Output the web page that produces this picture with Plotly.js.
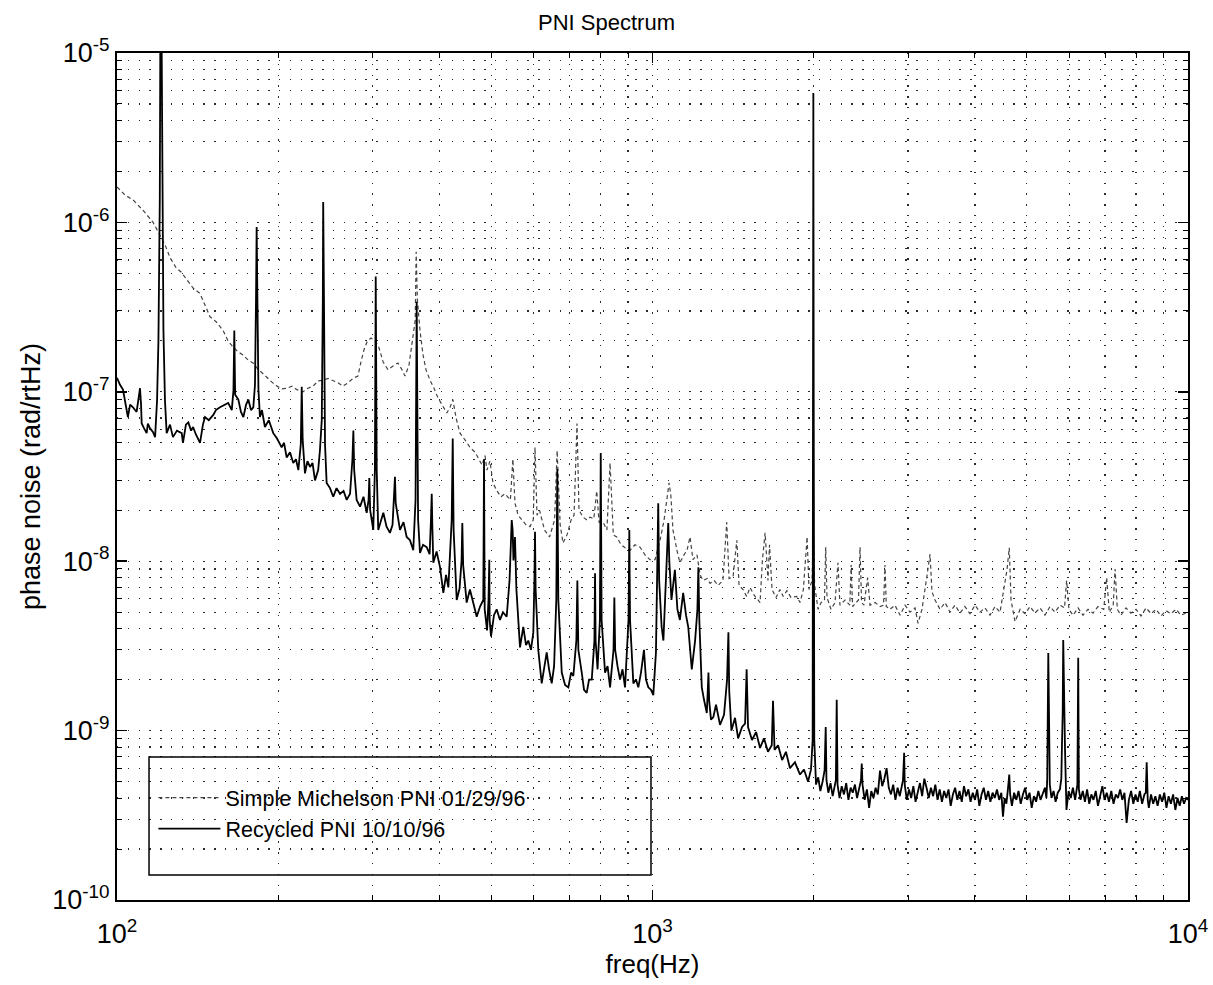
<!DOCTYPE html>
<html>
<head>
<meta charset="utf-8">
<script src="https://cdn.plot.ly/plotly-3.0.1.min.js"></script>
<style>html,body{margin:0;padding:0;background:#fff}#chart{width:1213px;height:985px}</style>
</head>
<body>
<div id="chart"></div>
<script>
// ---- Simple Michelson PNI 01/29/96 (dashed grey) ----
const freqSimple = [
  100, 101.3, 103.5, 107.1, 111.8, 116.8, 122.9, 125.6, 128.9, 131.7, 134.9, 138.7, 142.9, 146.0, 149.2, 153.0,
  157.8, 161.2, 164.7, 168.3, 172.0, 175.7, 179.5, 182.6, 186.5, 190.6, 194.7, 199.0, 203.3, 207.7, 212.2, 216.8,
  222.5, 227.3, 232.3, 237.5, 242.5, 247.8, 253.1, 258.7, 264.2, 270.0, 275.9, 281.8, 285.5, 289.2, 293.0, 298.1,
  303.3, 308.5, 314.0, 320.7, 327.7, 334.7, 340.6, 345.0, 351.0, 355.5,
  360.5, 362.0, 363.8,
  368.0, 372.8, 377.6, 384.2, 390.8, 397.6, 404.5, 412.9, 418.7, 423.8, 429.8, 437.0, 446.6, 456.1, 466.2, 474.3,
  480.5, 486.7, 490.8, 497.0, 503.6, 512.3, 521.2, 530.3,
  542.8, 548.6, 553.6,
  561.0, 570.6, 580.5, 590.5,
  598.8, 603.4, 608.6,
  615.2, 628.5, 642.3,
  656.4, 663.6, 672.4,
  680.6, 692.4, 704.6,
  713.7, 722.8, 729.0,
  741.7, 754.6, 764.4,
  777, 786.8, 794.6,
  808.5,
  822, 833.2, 845,
  857.5, 873.5, 888.6, 907.7, 927.5, 947.7, 968.3, 989.3, 1011, 1033, 1051,
  1064, 1074, 1082, 1092,
  1111, 1125, 1145,
  1160, 1175, 1190,
  1211, 1227, 1243, 1265, 1281, 1303, 1326,
  1354, 1376, 1390,
  1414, 1437, 1451,
  1476, 1499, 1521, 1548, 1574, 1588,
  1604, 1623, 1643, 1654, 1672,
  1701, 1730, 1753, 1783, 1814, 1859, 1886, 1913,
  1930, 1944, 1960,
  1986, 1997, 2008,
  2038, 2064,
  2095, 2106, 2118,
  2154, 2192, 2220, 2239, 2289, 2336, 2349, 2364, 2399, 2425, 2441, 2457,
  2483, 2522, 2548, 2604, 2661, 2700, 2718, 2733,
  2777, 2836, 2900, 2962, 3026, 3092, 3132, 3186,
  3255, 3298, 3326,
  3370, 3443, 3518, 3594, 3672, 3752, 3832, 3916, 4001, 4088, 4176, 4268, 4361, 4456,
  4592, 4637, 4672,
  4753, 4858, 4962, 5070, 5180, 5292, 5407, 5525, 5645, 5768,
  5880, 5934, 5994,
  6099, 6233, 6367, 6506, 6647, 6790,
  6960, 7049, 7130,
  7250, 7308, 7380,
  7496, 7660, 7826, 7997, 8172, 8350, 8531, 8716, 8904, 9097, 9296, 9497, 9703, 10000
];
const pniSimple = [
  1.62e-6, 1.55e-6, 1.45e-6, 1.36e-6, 1.18e-6, 1.0e-6, 7.4e-7, 6.2e-7, 5.4e-7, 5.1e-7, 4.6e-7, 4.1e-7, 3.8e-7, 3.25e-7, 2.77e-7, 2.6e-7,
  2.3e-7, 2.0e-7, 1.84e-7, 1.72e-7, 1.65e-7, 1.54e-7, 1.48e-7, 1.38e-7, 1.29e-7, 1.22e-7, 1.14e-7, 1.08e-7, 1.04e-7, 1.05e-7, 1.08e-7, 1.03e-7,
  1.0e-7, 1.05e-7, 1.08e-7, 1.16e-7, 1.17e-7, 1.2e-7, 1.16e-7, 1.13e-7, 1.08e-7, 1.13e-7, 1.2e-7, 1.24e-7, 1.5e-7, 1.77e-7, 1.97e-7, 2.08e-7,
  2.0e-7, 1.82e-7, 1.5e-7, 1.35e-7, 1.42e-7, 1.48e-7, 1.35e-7, 1.24e-7, 1.44e-7, 1.89e-7,
  2.65e-7, 6.7e-7, 3.5e-7,
  2.3e-7, 1.65e-7, 1.35e-7, 1.17e-7, 1.05e-7, 9.2e-8, 8.4e-8, 7.5e-8, 8.1e-8, 9.0e-8, 7.0e-8, 5.7e-8, 5.2e-8, 4.7e-8, 4.4e-8, 4.0e-8,
  3.7e-8, 4.2e-8, 3.45e-8, 3.9e-8, 2.9e-8, 2.6e-8, 2.4e-8, 2.5e-8,
  2.3e-8, 4.0e-8, 2.2e-8,
  1.87e-8, 1.75e-8, 1.64e-8, 1.6e-8,
  1.75e-8, 4.7e-8, 1.87e-8,
  2.0e-8, 1.53e-8, 1.39e-8,
  1.75e-8, 4.5e-8, 1.64e-8,
  1.28e-8, 1.43e-8, 1.75e-8,
  1.87e-8, 6.5e-8, 2.0e-8,
  1.82e-8, 1.75e-8, 1.82e-8,
  1.78e-8, 2.6e-8, 1.7e-8,
  1.7e-8,
  1.53e-8, 3.8e-8, 1.43e-8,
  1.39e-8, 1.25e-8, 1.2e-8, 1.16e-8, 1.25e-8, 1.21e-8, 1.09e-8, 1.02e-8, 1.02e-8, 1.33e-8, 1.75e-8,
  2.3e-8, 2.9e-8, 2.45e-8, 1.53e-8,
  1.16e-8, 9.8e-9, 1.09e-8,
  1.16e-8, 1.39e-8, 1.02e-8,
  1.09e-8, 8.3e-9, 7.7e-9, 7.9e-9, 7.4e-9, 7.7e-9, 7.2e-9,
  7.7e-9, 1.7e-8, 7.9e-9,
  8.1e-9, 1.33e-8, 7.2e-9,
  6.8e-9, 6.2e-9, 7.0e-9, 6.3e-9, 5.9e-9, 5.7e-9,
  1.01e-8, 1.47e-8, 7.7e-9, 1.25e-8, 6.8e-9,
  6.1e-9, 6.8e-9, 6.2e-9, 6.7e-9, 6.1e-9, 6.2e-9, 5.7e-9, 6.8e-9,
  1.01e-8, 1.39e-8, 6.8e-9,
  7.7e-9, 1.53e-8, 7.2e-9,
  5.2e-9, 5.7e-9,
  5.9e-9, 1.21e-8, 6.1e-9,
  5.2e-9, 5.7e-9, 9.8e-9, 5.5e-9, 5.9e-9, 5.5e-9, 9.5e-9, 5.4e-9, 5.7e-9, 5.9e-9, 1.21e-8, 5.7e-9,
  5.5e-9, 8.0e-9, 5.5e-9, 5.7e-9, 5.4e-9, 5.5e-9, 9.5e-9, 5.4e-9,
  5.2e-9, 5.5e-9, 4.8e-9, 5.5e-9, 5.0e-9, 5.3e-9, 4.3e-9, 5.2e-9,
  8.2e-9, 1.1e-8, 6.6e-9,
  5.9e-9, 5.2e-9, 5.7e-9, 5.0e-9, 5.5e-9, 4.94e-9, 5.4e-9, 4.9e-9, 5.5e-9, 5.0e-9, 5.3e-9, 4.8e-9, 5.4e-9, 5.0e-9,
  8.9e-9, 1.2e-8, 5.9e-9,
  4.4e-9, 5.2e-9, 4.9e-9, 5.4e-9, 4.94e-9, 5.3e-9, 4.8e-9, 5.4e-9, 5.0e-9, 5.5e-9,
  5.3e-9, 7.7e-9, 5.2e-9,
  4.8e-9, 5.3e-9, 4.8e-9, 5.2e-9, 4.94e-9, 5.4e-9,
  5.2e-9, 8.0e-9, 5.0e-9,
  5.5e-9, 9.0e-9, 5.2e-9,
  4.8e-9, 5.3e-9, 4.94e-9, 5.2e-9, 4.75e-9, 5.3e-9, 4.9e-9, 5.2e-9, 4.75e-9, 5.1e-9, 4.9e-9, 5.2e-9, 4.8e-9, 5.0e-9
];

// ---- Recycled PNI 10/10/96 (solid black), 100 Hz - 2 kHz ----
const freqRecycled = [
  100, 100.4, 101.3, 102.6, 103.5, 104.8, 105.8, 107.1, 108.8, 109.9, 110.4, 110.9, 111.2, 112.3, 113.6, 114.2, 115.2, 116.7, 117.8,
  118.8, 119.5, 120.2, 120.5, 121.1, 121.6, 122.1, 122.9, 123.8,
  125.6, 127.2, 129.4, 132.1, 132.8, 134.5, 135.9, 137.5, 138.7, 140.4, 142.9, 144.7, 146.0, 148.4, 151.3, 153.0, 155.7, 158.5, 161.3, 163.8,
  165.0, 165.6, 166.2,
  168.5, 170.4, 172.2, 174.2, 175.9, 177.9, 179.7,
  181.0, 181.8, 182.3, 182.9, 183.7,
  184.9, 186.5, 188.9, 192.1, 195.8, 199.0, 203.0, 205.1, 207.4, 210.4, 213.4, 215.9, 218.1,
  220.4, 221.3, 222.2,
  224.4, 226.8, 229.3, 231.8, 234.3, 237.5, 239.3,
  241.2, 242.3, 242.7, 243.5, 244.6,
  246.3, 249.9, 253.4, 257.0, 260.9, 264.9, 268.5, 272.4,
  275.2, 276.3, 277.3,
  280.2, 284.4, 288.6, 292.6,
  295.0, 295.9, 297.0,
  301.0,
  303.1, 304.2, 305.5,
  307.5, 311.2, 314.3, 318.7, 323.4, 327.0,
  329.3, 330.4, 331.5,
  334.7, 337.6, 342.8, 347.5, 352.5, 357.5,
  361.0, 362.0, 362.8, 363.7, 365.0,
  368.0, 372.8, 378.7, 383.5,
  385.7, 387.0, 388.2,
  389.6, 395.2, 401.1, 406.8, 411.6, 415.7,
  421.7, 423.6, 425.2,
  430.9, 436.2,
  440.0, 441.4, 443.0,
  449.8, 456.1, 463.1, 469.6, 476.4, 483.1,
  484.6, 486.0,
  491.0,
  494.0, 495.7, 496.5,
  499.4, 505.8, 511.7, 519.0, 525.8, 534.2,
  540.8, 544.3, 545.9, 548.0, 550.0, 553.6, 557.0,
  565.7, 573.7, 580.5, 586.3, 593.0, 599.0,
  601.8, 603.4, 605.0,
  611.9, 621.0, 627.3, 634.5, 641.0, 648.3, 655.0,
  661.2, 664.1, 667.0,
  676.9, 686.7, 696.4, 704.6, 711.5,
  720.8, 723.9, 727.0,
  737.7, 745.0, 753.7, 761.2, 770.1,
  779.0, 781.1, 783.0,
  789.6,
  797.5, 800.5, 803.5,
  815.4, 824.3, 833.2,
  845.7, 848.7, 851.7,
  860.3, 869.7, 879.0, 888.6,
  902.0, 905.1, 908.0,
  920.9, 931.4, 940.9, 951.7, 964.0, 972.3, 982.2, 993.6, 1003.5, 1015,
  1021, 1025, 1029,
  1040, 1048, 1055,
  1066, 1070, 1075,
  1085, 1101, 1113, 1125, 1141, 1155, 1166, 1184, 1201,
  1213, 1218, 1223,
  1236, 1248, 1263,
  1268, 1272, 1276,
  1286, 1299, 1314, 1337, 1360,
  1378, 1386, 1391,
  1404, 1426, 1445, 1470,
  1489, 1499, 1508,
  1534, 1561, 1588, 1615, 1643,
  1670, 1679, 1690,
  1716, 1746, 1775, 1806, 1845, 1886, 1918, 1952, 1977,
  1991, 1994, 1997, 2000, 2005
];
const pniRecycled = [
  1.21e-7, 1.17e-7, 1.10e-7, 1.03e-7, 8.7e-8, 7.1e-8, 8.4e-8, 8.1e-8, 7.6e-8, 9.6e-8, 1.05e-7, 8.4e-8, 6.5e-8, 6.1e-8, 5.7e-8, 6.5e-8, 6.1e-8, 5.8e-8, 5.4e-8,
  8.9e-8, 2.0e-7, 1.35e-6, 1.5e-5, 1.5e-5, 1.35e-6, 2.3e-7, 8.9e-8, 5.7e-8,
  6.4e-8, 5.4e-8, 5.9e-8, 5.7e-8, 5.0e-8, 6.4e-8, 6.6e-8, 5.9e-8, 6.2e-8, 5.6e-8, 5.0e-8, 6.4e-8, 7.1e-8, 6.8e-8, 7.3e-8, 7.8e-8, 8.1e-8, 8.4e-8, 8.6e-8, 7.8e-8,
  1.02e-7, 2.3e-7, 9.6e-8,
  9.0e-8, 7.6e-8, 7.1e-8, 8.4e-8, 9.0e-8, 7.8e-8, 8.1e-8,
  1.1e-7, 3.5e-7, 9.4e-7, 3.5e-7, 1.03e-7,
  7.1e-8, 7.8e-8, 6.2e-8, 6.8e-8, 5.7e-8, 5.3e-8, 4.7e-8, 5.0e-8, 4.1e-8, 4.4e-8, 3.8e-8, 4.0e-8, 3.45e-8,
  4.9e-8, 1.07e-7, 5.2e-8,
  3.3e-8, 3.9e-8, 3.6e-8, 3.8e-8, 3.0e-8, 3.45e-8, 4.5e-8,
  6.8e-8, 3.5e-7, 1.32e-6, 3.5e-7, 4.9e-8,
  2.9e-8, 2.7e-8, 2.4e-8, 2.7e-8, 2.5e-8, 2.6e-8, 2.3e-8, 2.5e-8,
  4.0e-8, 5.9e-8, 3.45e-8,
  2.3e-8, 2.1e-8, 2.4e-8, 1.93e-8,
  2.3e-8, 3.1e-8, 2.0e-8,
  1.53e-8,
  3.45e-8, 4.8e-7, 3.45e-8,
  1.53e-8, 1.75e-8, 1.93e-8, 1.6e-8, 1.47e-8, 1.64e-8,
  2.3e-8, 3.15e-8, 2.2e-8,
  1.75e-8, 1.53e-8, 1.7e-8, 1.39e-8, 1.33e-8, 1.16e-8,
  2.3e-8, 9.0e-8, 3.4e-7, 9.0e-8, 1.75e-8,
  1.12e-8, 1.25e-8, 1.21e-8, 1.1e-8,
  1.75e-8, 2.5e-8, 1.53e-8,
  9.8e-9, 1.14e-8, 9.2e-9, 6.5e-9, 8.3e-9, 7.0e-9,
  1.75e-8, 5.3e-8, 1.53e-8,
  5.9e-9, 6.9e-9,
  1.01e-8, 1.68e-8, 9.5e-9,
  5.7e-9, 6.8e-9, 5.5e-9, 4.7e-9, 5.4e-9, 5.9e-9,
  4.0e-8, 5.2e-9,
  3.9e-9,
  5.9e-9, 1.02e-8, 4.5e-9,
  3.6e-9, 4.8e-9, 5.2e-9, 4.5e-9, 5.0e-9, 4.7e-9,
  7.7e-9, 1.33e-8, 1.75e-8, 1.53e-8, 1.01e-8, 1.39e-8, 6.8e-9,
  3.1e-9, 4.1e-9, 3.2e-9, 3.4e-9, 3.0e-9, 3.8e-9,
  7.7e-9, 1.49e-8, 6.8e-9,
  3.0e-9, 1.9e-9, 2.3e-9, 2.9e-9, 2.3e-9, 1.9e-9, 2.4e-9,
  5.9e-9, 3.5e-8, 5.9e-9,
  2.2e-9, 1.86e-9, 1.8e-9, 2.2e-9, 2.1e-9,
  3.4e-9, 7.7e-9, 3.0e-9,
  2.2e-9, 1.74e-9, 1.67e-9, 2.0e-9, 2.0e-9,
  3.4e-9, 8.5e-9, 3.4e-9,
  2.3e-9,
  4.5e-9, 4.35e-8, 4.5e-9,
  2.2e-9, 2.4e-9, 1.8e-9,
  3.0e-9, 6.1e-9, 3.0e-9,
  2.4e-9, 2.0e-9, 2.3e-9, 1.8e-9,
  4.5e-9, 1.53e-8, 4.5e-9,
  1.9e-9, 2.0e-9, 1.8e-9, 2.2e-9, 3.0e-9, 2.0e-9, 1.8e-9, 1.74e-9, 1.62e-9, 2.9e-9,
  1.0e-8, 2.2e-8, 7.7e-9,
  4.1e-9, 3.4e-9, 5.7e-9,
  1.0e-8, 1.68e-8, 1.0e-8,
  5.9e-9, 8.9e-9, 5.2e-9, 4.5e-9, 6.5e-9, 4.8e-9, 4.1e-9, 2.3e-9, 3.4e-9,
  5.2e-9, 9.2e-9, 4.5e-9,
  1.8e-9, 1.52e-9, 1.27e-9,
  1.7e-9, 2.2e-9, 1.5e-9,
  1.16e-9, 1.2e-9, 1.42e-9, 1.08e-9, 1.24e-9,
  2.0e-9, 3.8e-9, 1.7e-9,
  1.0e-9, 1.19e-9, 9.0e-10, 1.05e-9,
  1.1e-9, 2.3e-9, 1.05e-9,
  8.8e-10, 9.8e-10, 7.9e-10, 9.0e-10, 7.5e-10,
  8.2e-10, 1.5e-9, 7.7e-10,
  8.2e-10, 6.7e-10, 7.5e-10, 6.0e-10, 6.5e-10, 5.5e-10, 5.9e-10, 5.0e-10, 5.9e-10,
  8.8e-10, 9.0e-8, 5.8e-6, 9.0e-8, 8.8e-10
];

// ---- Recycled PNI 10/10/96, 2 kHz - 10 kHz noise floor: [freq Hz, rad/rtHz] ----
const recycledHighBand = [
  [2020, 4.8e-10], [2039, 5.3e-10], [2058, 4.4e-10], [2078, 5.0e-10], [2096, 5.85e-10], [2106, 1.05e-9], [2113, 5.1e-10],
  [2130, 4.3e-10], [2150, 4.9e-10], [2170, 4.1e-10], [2190, 4.7e-10], [2200, 5.1e-10], [2208, 1.52e-9], [2216, 4.8e-10],
  [2235, 4.0e-10], [2256, 4.7e-10], [2278, 4.2e-10], [2300, 4.9e-10], [2322, 3.9e-10], [2344, 4.6e-10], [2366, 4.3e-10],
  [2388, 4.8e-10], [2410, 4.0e-10], [2430, 4.6e-10], [2451, 5.1e-10], [2459, 6.4e-10], [2467, 4.8e-10], [2490, 3.9e-10],
  [2514, 4.5e-10], [2538, 3.5e-10], [2562, 4.4e-10], [2586, 4.0e-10], [2610, 4.6e-10], [2635, 4.2e-10], [2660, 5.8e-10],
  [2685, 4.7e-10], [2710, 5.2e-10], [2736, 6.0e-10], [2762, 4.6e-10], [2788, 4.2e-10], [2815, 4.8e-10], [2842, 3.9e-10],
  [2869, 4.6e-10], [2896, 4.1e-10], [2923, 4.7e-10], [2936, 5.1e-10], [2951, 7.4e-10], [2958, 4.8e-10], [2985, 3.9e-10],
  [3013, 4.5e-10], [3041, 4.0e-10], [3070, 4.7e-10], [3099, 3.8e-10], [3128, 4.4e-10], [3158, 4.9e-10], [3188, 4.1e-10],
  [3218, 5.2e-10], [3249, 4.6e-10], [3280, 4.0e-10], [3311, 4.6e-10], [3342, 4.1e-10], [3374, 4.8e-10], [3406, 3.9e-10],
  [3438, 4.5e-10], [3471, 3.8e-10], [3504, 4.4e-10], [3537, 4.0e-10], [3571, 4.5e-10], [3605, 3.6e-10], [3639, 4.2e-10],
  [3674, 4.6e-10], [3709, 3.9e-10], [3744, 4.4e-10], [3780, 3.8e-10], [3816, 4.7e-10], [3852, 4.1e-10], [3889, 4.5e-10],
  [3926, 3.8e-10], [3963, 4.3e-10], [4001, 3.9e-10], [4039, 4.5e-10], [4077, 3.6e-10], [4116, 4.2e-10], [4155, 4.6e-10],
  [4195, 3.9e-10], [4235, 4.4e-10], [4275, 3.8e-10], [4316, 4.3e-10], [4357, 4.0e-10], [4398, 4.5e-10], [4440, 3.9e-10],
  [4482, 4.3e-10], [4513, 3.1e-10], [4545, 4.0e-10], [4580, 3.7e-10], [4610, 4.5e-10], [4637, 5.5e-10], [4655, 4.2e-10],
  [4690, 3.6e-10], [4735, 4.3e-10], [4780, 3.9e-10], [4825, 4.4e-10], [4871, 3.7e-10], [4917, 4.2e-10], [4964, 4.6e-10],
  [5011, 3.9e-10], [5059, 4.3e-10], [5107, 3.5e-10], [5155, 4.1e-10], [5204, 3.8e-10], [5254, 4.4e-10], [5304, 3.9e-10],
  [5354, 4.3e-10], [5405, 4.6e-10], [5440, 4.0e-10], [5459, 5.1e-10], [5484, 2.87e-9], [5500, 1.5e-9], [5520, 4.8e-10],
  [5560, 4.0e-10], [5610, 4.4e-10], [5660, 3.8e-10], [5712, 4.3e-10], [5765, 4.5e-10], [5800, 5.2e-10], [5814, 7.7e-10],
  [5835, 1.3e-9], [5848, 3.43e-9], [5868, 1.5e-9], [5893, 7.7e-10], [5930, 3.4e-10], [5985, 4.4e-10], [6040, 4.0e-10],
  [6097, 4.6e-10], [6155, 3.9e-10], [6200, 4.4e-10], [6215, 4.8e-10], [6237, 2.69e-9], [6255, 4.5e-10], [6300, 3.9e-10],
  [6360, 4.4e-10], [6420, 3.8e-10], [6480, 4.5e-10], [6540, 3.7e-10], [6600, 4.2e-10], [6660, 3.9e-10], [6725, 4.4e-10],
  [6790, 3.6e-10], [6855, 4.2e-10], [6920, 4.7e-10], [6985, 3.9e-10], [7050, 4.3e-10], [7120, 3.8e-10], [7190, 4.4e-10],
  [7260, 3.7e-10], [7330, 4.2e-10], [7400, 4.0e-10], [7470, 4.5e-10], [7540, 3.9e-10], [7610, 4.3e-10], [7680, 2.85e-10],
  [7755, 3.9e-10], [7830, 4.4e-10], [7905, 3.7e-10], [7980, 4.2e-10], [8055, 3.8e-10], [8130, 4.4e-10], [8210, 3.7e-10],
  [8290, 4.2e-10], [8340, 4.3e-10], [8373, 6.5e-10], [8410, 3.9e-10], [8450, 3.5e-10], [8530, 4.2e-10], [8610, 3.7e-10],
  [8690, 4.1e-10], [8775, 3.6e-10], [8860, 4.2e-10], [8945, 3.8e-10], [9030, 4.3e-10], [9115, 3.5e-10], [9200, 4.1e-10],
  [9290, 3.7e-10], [9380, 4.2e-10], [9470, 3.4e-10], [9560, 4.0e-10], [9650, 3.6e-10], [9740, 4.1e-10], [9830, 3.7e-10],
  [9920, 4.0e-10], [10000, 3.9e-10]
];

// ---- axis ticks / labels ----
const xTickVals = [100, 1000, 10000];
const xTickText = ['10<sup>2</sup>', '10<sup>3</sup>', '10<sup>4</sup>'];
const xMinorVals = [200, 300, 400, 500, 600, 700, 800, 900, 2000, 3000, 4000, 5000, 6000, 7000, 8000, 9000];
const yTickVals = [1e-10, 1e-9, 1e-8, 1e-7, 1e-6, 1e-5];
const yTickText = ['10<sup>-10</sup>', '10<sup>-9</sup>', '10<sup>-8</sup>', '10<sup>-7</sup>', '10<sup>-6</sup>', '10<sup>-5</sup>'];
const yMinorVals = [
  2e-10, 3e-10, 4e-10, 5e-10, 6e-10, 7e-10, 8e-10, 9e-10,
  2e-9, 3e-9, 4e-9, 5e-9, 6e-9, 7e-9, 8e-9, 9e-9,
  2e-8, 3e-8, 4e-8, 5e-8, 6e-8, 7e-8, 8e-8, 9e-8,
  2e-7, 3e-7, 4e-7, 5e-7, 6e-7, 7e-7, 8e-7, 9e-7,
  2e-6, 3e-6, 4e-6, 5e-6, 6e-6, 7e-6, 8e-6, 9e-6
];
const seriesNames = ['Simple Michelson PNI 01/29/96', 'Recycled PNI 10/10/96'];

const FONT = 'Liberation Sans, Arial, Helvetica, sans-serif';
const GRID_DASH = '1.3px,9.5px';
const GRID_COLOR = '#2a2a2a';

function axisStyle(tickVals, tickText, minorVals) {
  return {
    type: 'log',
    tickmode: 'array', tickvals: tickVals, ticktext: tickText,
    showline: true, linecolor: '#000', linewidth: 2, mirror: 'ticks',
    ticks: 'inside', ticklen: 10, tickwidth: 1.5, tickcolor: '#000',
    showgrid: true, gridcolor: GRID_COLOR, gridwidth: 1.2, griddash: GRID_DASH,
    zeroline: false,
    tickfont: {family: FONT, size: 27, color: '#000'},
    minor: {
      tickmode: 'array', tickvals: minorVals,
      ticks: 'inside', ticklen: 5, tickwidth: 1, tickcolor: '#000',
      showgrid: true, gridcolor: GRID_COLOR, gridwidth: 1.2, griddash: GRID_DASH
    }
  };
}

const recycledX = freqRecycled.concat(recycledHighBand.map(p => p[0]));
const recycledY = pniRecycled.concat(recycledHighBand.map(p => p[1]));

const traces = [
  {
    x: freqSimple, y: pniSimple, name: seriesNames[0], type: 'scatter', mode: 'lines',
    line: {color: '#444', width: 1.2, dash: '4px,3px'}
  },
  {
    x: recycledX, y: recycledY, name: seriesNames[1], type: 'scatter', mode: 'lines',
    line: {color: '#000', width: 1.8}
  }
];

const xaxis = Object.assign(axisStyle(xTickVals, xTickText, xMinorVals), {
  range: [2, 4], ticklabelstandoff: 9,
  title: {text: 'freq(Hz)', font: {family: FONT, size: 26, color: '#000'}, standoff: 2}
});
const yaxis = Object.assign(axisStyle(yTickVals, yTickText, yMinorVals), {
  range: [-10, -5],
  title: {text: 'phase noise (rad/rtHz)', font: {family: FONT, size: 27, color: '#000'}, standoff: 4}
});

const layout = {
  width: 1213, height: 985, autosize: false,
  margin: {l: 117, r: 25, t: 53, b: 85},
  paper_bgcolor: '#fff', plot_bgcolor: '#fff',
  font: {family: FONT, color: '#000'},
  title: {text: 'PNI Spectrum', font: {family: FONT, size: 22, color: '#000'},
          x: 0.5, xref: 'container', xanchor: 'center', y: 0.977, yref: 'container', yanchor: 'middle'},
  xaxis: xaxis,
  yaxis: yaxis,
  showlegend: true,
  legend: {
    x: 0.034, y: 0.145, xanchor: 'left', yanchor: 'top',
    bgcolor: 'rgba(0,0,0,0)', borderwidth: 0,
    font: {family: FONT, size: 21.5, color: '#000'},
    traceorder: 'normal', itemwidth: 62
  },
  shapes: [{
    type: 'rect', xref: 'paper', yref: 'paper',
    x0: 0.0299, x1: 0.4986, y0: 0.0295, y1: 0.1688,
    line: {color: '#000', width: 1.5}, fillcolor: 'rgba(0,0,0,0)', layer: 'above'
  }]
};

Plotly.newPlot('chart', traces, layout, {displayModeBar: false, staticPlot: true});
</script>
</body>
</html>
